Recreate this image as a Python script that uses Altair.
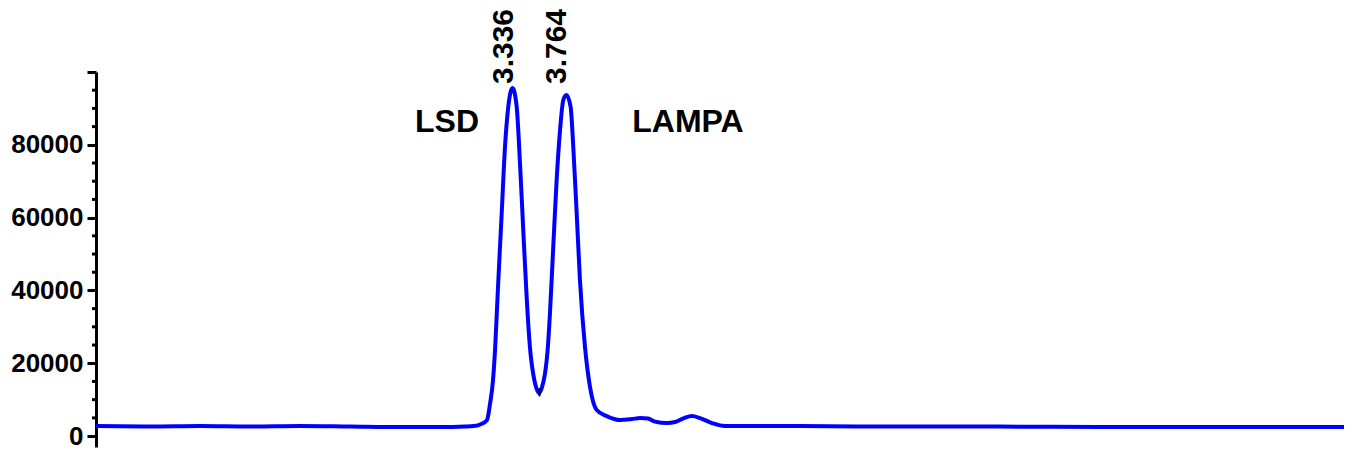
import altair as alt
import pandas as pd

# Chromatogram trace (time in min, signal)
time = [0.030, 0.459, 0.855, 1.252, 1.649, 2.046, 2.443, 2.760, 2.959, 3.030,
        3.087, 3.133, 3.157, 3.181, 3.197, 3.221, 3.250, 3.276, 3.302, 3.336,
        3.369, 3.395, 3.421, 3.448, 3.474, 3.509, 3.528, 3.546, 3.570, 3.593,
        3.613, 3.633, 3.659, 3.686, 3.713, 3.739, 3.764, 3.797, 3.818, 3.845,
        3.871, 3.911, 3.951, 4.004, 4.083, 4.189, 4.284, 4.347, 4.411, 4.467,
        4.562, 4.625, 4.697, 4.760, 4.824, 4.919, 5.022, 5.300, 5.617, 6.411,
        7.205, 7.998, 8.792, 9.586, 9.998]
signal = [2750, 2610, 2750, 2610, 2750, 2610, 2470, 2470, 2610, 2750,
          3300, 4400, 8790, 15380, 23620, 41210, 61260, 79400, 90390, 95600,
          90390, 75000, 56590, 38190, 24450, 15380, 12900, 11800, 13460, 17030,
          23000, 33790, 51920, 70330, 84070, 92310, 93680, 90390, 79400, 61260,
          42860, 24450, 13460, 7140, 5490, 4400, 4670, 4950, 4810, 3980,
          3570, 3850, 4950, 5490, 4950, 3570, 2750, 2750, 2750, 2610,
          2610, 2470, 2470, 2470, 2470]

# Peak retention-time labels
peak_time = [3.336, 3.764]
peak_label = ["3.336", "3.764"]
peak_label_y = [96700, 96700]

# Compound names
name_text = ["LSD", "LAMPA"]
name_time = [2.816, 4.728]
name_y = [83500, 83500]

# Integration marker in the valley
marker_time = [3.550]
marker_top = [13200]
marker_bottom = [10900]

# Axis ticks
major_ticks = [0, 20000, 40000, 60000, 80000, 100000]
minor_ticks = [5000, 10000, 15000, 25000, 30000, 35000, 45000, 50000, 55000,
               65000, 70000, 75000, 85000, 90000, 95000]

FONT = "Liberation Sans"
x_scale = alt.Scale(domain=[0.03, 9.935], nice=False, zero=False)
y_scale = alt.Scale(domain=[-3000, 100000], nice=False, zero=False)

trace = pd.DataFrame({"t": time, "s": signal})
peaks = pd.DataFrame({"t": peak_time, "label": peak_label, "y": peak_label_y})
names = pd.DataFrame({"t": name_time, "name": name_text, "y": name_y})
marker = pd.DataFrame({"t": marker_time, "top": marker_top, "bottom": marker_bottom})
minor = pd.DataFrame({"v": minor_ticks})

line = alt.Chart(trace).mark_line(color="#0000ff", strokeWidth=4, interpolate="monotone").encode(
    x=alt.X("t:Q", scale=x_scale, axis=None),
    y=alt.Y("s:Q", scale=y_scale, axis=alt.Axis(
        values=major_ticks, format="d",
        labelExpr="datum.value >= 100000 ? '' : datum.label",
        labelFont=FONT, labelFontSize=26, labelFontWeight="bold", labelColor="black",
        labelPadding=4, tickSize=9, tickWidth=3, tickColor="black",
        domainColor="black", domainWidth=3, grid=False, title=None, orient="left")),
)

minor_rules = alt.Chart(minor).mark_rule(color="black", strokeWidth=3, clip=False).encode(
    y=alt.Y("v:Q", scale=y_scale),
    x=alt.value(-4),
    x2=alt.value(0),
)

peak_text = alt.Chart(peaks).mark_text(
    angle=270, align="left", baseline="alphabetic", font=FONT,
    fontSize=30, fontWeight="bold", color="black", clip=False
).encode(
    x=alt.X("t:Q", scale=x_scale),
    y=alt.Y("y:Q", scale=y_scale),
    text="label:N",
)

name_marks = alt.Chart(names).mark_text(
    align="center", baseline="alphabetic", font=FONT,
    fontSize=32, fontWeight="bold", color="black"
).encode(
    x=alt.X("t:Q", scale=x_scale),
    y=alt.Y("y:Q", scale=y_scale),
    text="name:N",
)

marker_rule = alt.Chart(marker).mark_rule(color="black", strokeWidth=2).encode(
    x=alt.X("t:Q", scale=x_scale),
    y=alt.Y("top:Q", scale=y_scale),
    y2="bottom:Q",
)

chart = alt.layer(line, minor_rules, marker_rule, peak_text, name_marks).properties(
    width=1248, height=375,
    autosize=alt.AutoSizeParams(type="none"),
    padding={"left": 88, "top": 64, "right": 0, "bottom": 8},
).configure_view(stroke=None)

chart.save("out.html", embed_options={"renderer": "svg", "actions": False})
